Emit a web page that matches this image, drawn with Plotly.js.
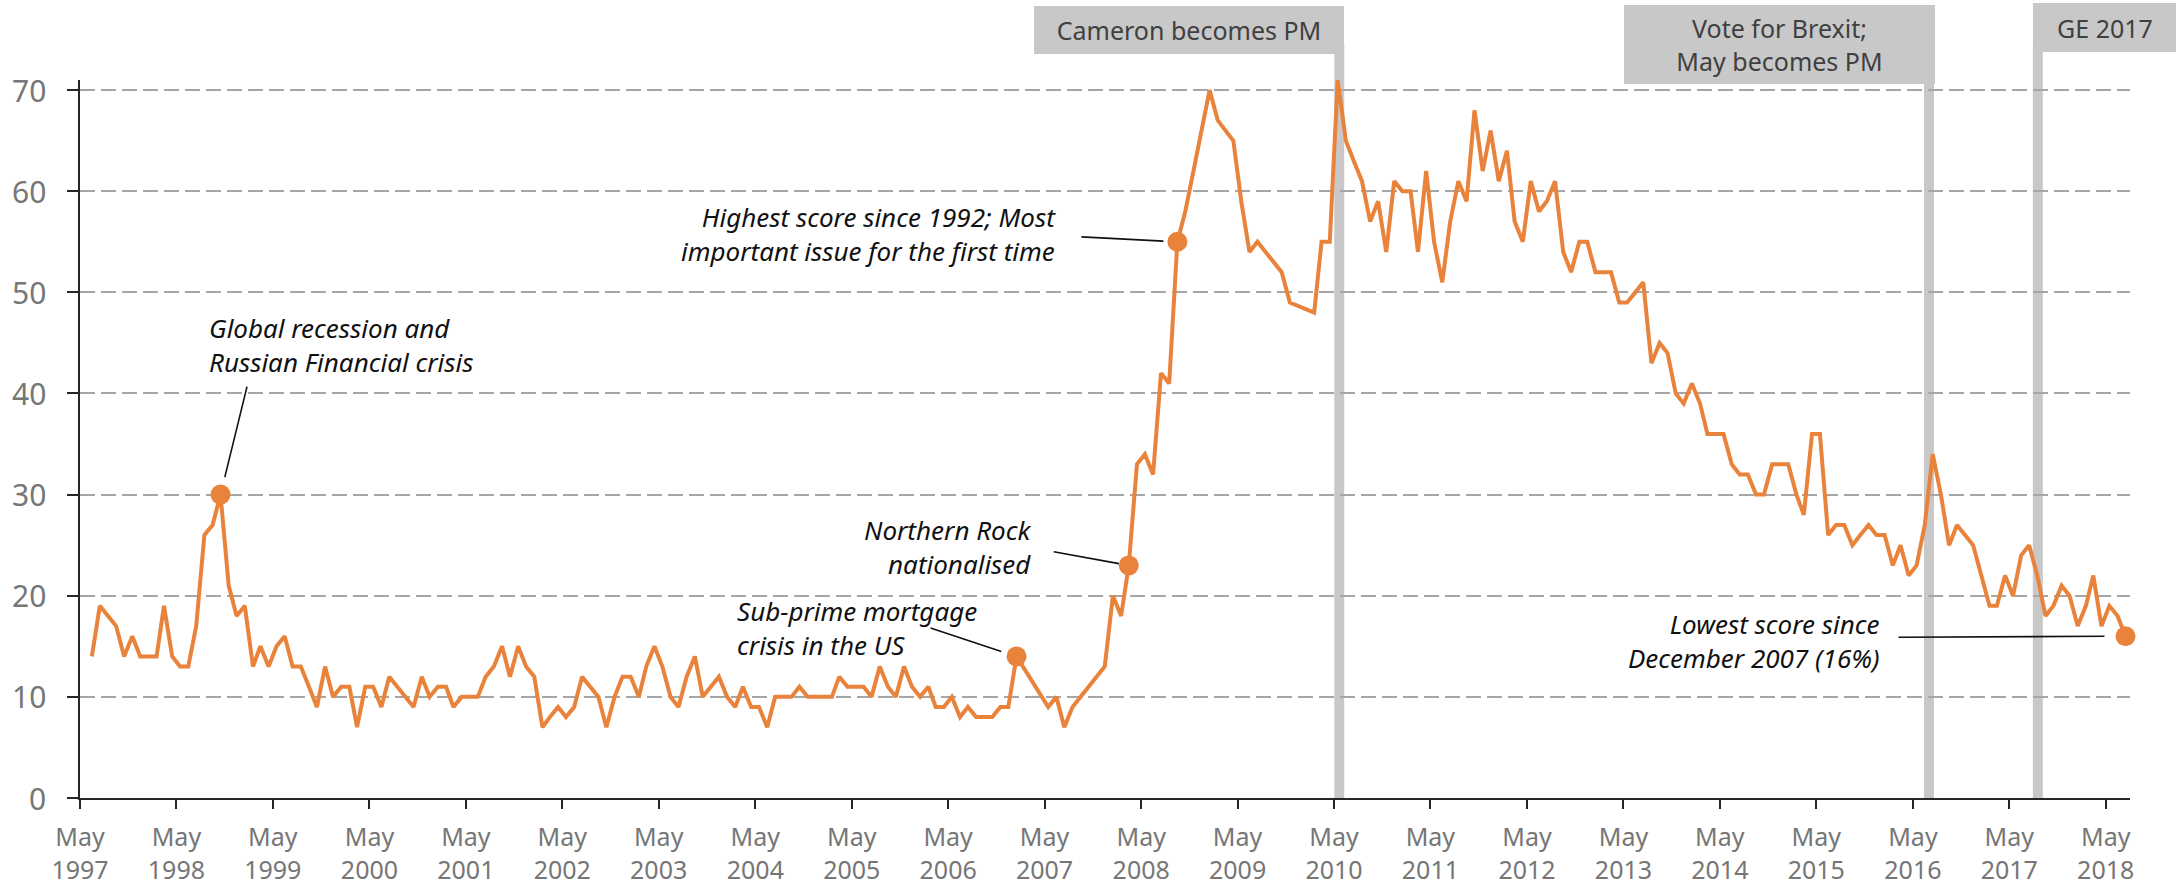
<!DOCTYPE html>
<html>
<head>
<meta charset="utf-8">
<script src="https://cdn.plot.ly/plotly-3.0.1.min.js"></script>
<style>
html,body{margin:0;padding:0;background:#ffffff;}
#chart{width:2176px;height:886px;}
</style>
</head>
<body>
<div id="chart"></div>
<script>
// Monthly scores (Jan..Dec) per year; null = no reading
const v1997 = [null,null,null,null,null,14,19,18,17,14,16,14];
const v1998 = [14,14,19,14,13,13,17,26,27,30,21,18];
const v1999 = [19,13,15,13,15,16,13,13,11,9,13,10];
const v2000 = [11,11,7,11,11,9,12,11,10,9,12,10];
const v2001 = [11,11,9,10,10,10,12,13,15,12,15,13];
const v2002 = [12,7,8,9,8,9,12,11,10,7,10,12];
const v2003 = [12,10,13,15,13,10,9,12,14,10,11,12];
const v2004 = [10,9,11,9,9,7,10,10,10,11,10,10];
const v2005 = [10,10,12,11,11,11,10,13,11,10,13,11];
const v2006 = [10,11,9,9,10,8,9,8,8,8,9,9];
const v2007 = [14,null,null,null,9,10,7,9,10,11,12,13];
const v2008 = [20,18,23,33,34,32,42,41,55,58,62,66];
const v2009 = [70,67,66,65,59,54,55,54,53,52,49,null];
const v2010 = [null,48,55,55,71,65,63,61,57,59,54,61];
const v2011 = [60,60,54,62,55,51,57,61,59,68,62,66];
const v2012 = [61,64,57,55,61,58,59,61,54,52,55,55];
const v2013 = [52,52,52,49,49,50,51,43,45,44,40,39];
const v2014 = [41,39,36,36,36,33,32,32,30,30,33,33];
const v2015 = [33,30,28,36,36,26,27,27,25,26,27,26];
const v2016 = [26,23,25,22,23,27,34,30,25,27,26,25];
const v2017 = [22,19,19,22,20,24,25,22,18,19,21,20];
const v2018 = [17,19,22,17,19,18,16];

const dataYears = [1997,1998,1999,2000,2001,2002,2003,2004,2005,2006,2007,2008,2009,2010,2011,2012,2013,2014,2015,2016,2017,2018];
const yearly = [v1997,v1998,v1999,v2000,v2001,v2002,v2003,v2004,v2005,v2006,v2007,v2008,v2009,v2010,v2011,v2012,v2013,v2014,v2015,v2016,v2017,v2018];

// Tick labels
const tickYears = [1997,1998,1999,2000,2001,2002,2003,2004,2005,2006,2007,2008,2009,2010,2011,2012,2013,2014,2015,2016,2017,2018];
const yTicks = [0,10,20,30,40,50,60,70];

// Highlighted months and their callouts
const calloutMonths = ['1998-10','2007-01','2008-03','2008-09','2018-07'];
const calloutTexts = [
  'Global recession and<br>Russian Financial crisis',
  'Sub-prime mortgage<br>crisis in the US',
  'Northern Rock<br>nationalised',
  'Highest score since 1992; Most<br>important issue for the first time',
  'Lowest score since<br>December 2007 (16%)'
];

// Events
const eventDates = ['2010-05-21','2016-07-01','2017-08-17'];
const eventLabels = ['Cameron becomes PM','Vote for Brexit;<br>May becomes PM','GE 2017'];

// ---- build series ----
const xs = [], ys = [];
yearly.forEach((arr, i) => {
  const yr = dataYears[i];
  arr.forEach((v, m) => {
    xs.push(yr + '-' + String(m + 1).padStart(2, '0') + '-15');
    ys.push(v);
  });
});
const monthKey = d => d.slice(0, 7);
const hx = [], hy = [];
calloutMonths.forEach(m => {
  const idx = xs.findIndex(d => monthKey(d) === m);
  hx.push(xs[idx]); hy.push(ys[idx]);
});

const ORANGE = '#E9833B';
const FONT = 'Noto Sans, Open Sans, sans-serif';

const traces = [
  {x: xs, y: ys, type: 'scatter', mode: 'lines', connectgaps: true,
   line: {color: ORANGE, width: 4}, hoverinfo: 'skip', cliponaxis: false},
  {x: hx, y: hy, type: 'scatter', mode: 'markers', cliponaxis: false,
   marker: {color: ORANGE, size: 20, line: {width: 0}}, hoverinfo: 'skip'}
];

// callout styling (layout offsets in px)
const calloutStyle = [
  {xanchor:'left',  xshift:-12.7,  yshift:149.4, ax:27,   ay:-110, standoff:18},
  {xanchor:'left',  xshift:-280.4, yshift:28.2,  ax:-88,  ay:-29,  standoff:16},
  {xanchor:'right', xshift:-95.3,  yshift:18.2,  ax:-77,  ay:-14,  standoff:10},
  {xanchor:'right', xshift:-120.7, yshift:8.2,   ax:-98,  ay:-5,   standoff:14},
  {xanchor:'right', xshift:-244.7, yshift:-5,    ax:-229, ay:1,    standoff:21}
];

const annotations = [];
calloutTexts.forEach((t, i) => {
  const s = calloutStyle[i];
  annotations.push({
    x: hx[i], y: hy[i], xref: 'x', yref: 'y', text: t, showarrow: false,
    xanchor: s.xanchor, yanchor: 'middle', align: s.xanchor,
    xshift: s.xshift, yshift: s.yshift, borderpad: 0,
    font: {family: FONT, size: 26, color: '#111111', style: 'italic'}
  });
  annotations.push({
    x: hx[i], y: hy[i], xref: 'x', yref: 'y', text: '', showarrow: true,
    arrowhead: 0, arrowwidth: 1.6, arrowcolor: '#111111',
    ax: s.ax, ay: s.ay, standoff: s.standoff, width: 1, height: 1,
    font: {size: 1}
  });
});

// y tick labels placed left of the axis ticks
yTicks.forEach(v => {
  annotations.push({
    x: 0, xref: 'paper', y: v, yref: 'y', text: String(v), showarrow: false,
    xanchor: 'right', yanchor: 'middle', xshift: -33, borderpad: 0,
    font: {family: FONT, size: 30, color: '#767676'}
  });
});

// event boxes
const boxStyle = [
  {xanchor:'right', xshift:5,  yshift:74,   width:310, height:48},
  {xanchor:'right', xshift:6,  yshift:75,   width:311, height:79},
  {xanchor:'left',  xshift:-5, yshift:76.7, width:144, height:49}
];
const shapes = [];
eventDates.forEach((d, i) => {
  const b = boxStyle[i];
  shapes.push({type: 'line', xref: 'x', yref: 'paper', x0: d, x1: d, y0: 0, y1: 1.05,
               line: {color: '#c8c8c8', width: 10}, layer: 'below'});
  annotations.push({
    x: d, y: 1, xref: 'x', yref: 'paper', text: eventLabels[i], showarrow: false,
    xanchor: b.xanchor, yanchor: 'top', xshift: b.xshift, yshift: b.yshift,
    width: b.width, height: b.height, align: 'center', valign: 'middle',
    bgcolor: '#c8c8c8', borderpad: 0, borderwidth: 0,
    font: {family: FONT, size: 25, color: '#404040'}
  });
});

const layout = {
  width: 2176, height: 886,
  margin: {l: 80, r: 46, t: 80, b: 88, pad: 0},
  paper_bgcolor: '#ffffff', plot_bgcolor: '#ffffff',
  showlegend: false, hovermode: false,
  font: {family: FONT},
  xaxis: {
    type: 'date', range: ['1997-05-01', '2018-08-01'],
    tickvals: tickYears.map(y => y + '-05-01'),
    ticktext: tickYears.map(y => 'May<br>' + y),
    ticks: 'outside', ticklen: 9, tickwidth: 2, tickcolor: '#262626',
    showline: true, linecolor: '#262626', linewidth: 2,
    showgrid: false, zeroline: false,
    tickfont: {family: FONT, size: 25, color: '#767676'},
    ticklabelstandoff: 7
  },
  yaxis: {
    range: [0, 71], tickvals: yTicks, showticklabels: false,
    ticks: 'outside', ticklen: 11, tickwidth: 2, tickcolor: '#262626',
    showline: true, linecolor: '#262626', linewidth: 2,
    showgrid: true, gridcolor: '#a6a6a6', gridwidth: 2, griddash: '15px,6px',
    zeroline: false
  },
  shapes: shapes,
  annotations: annotations
};

Plotly.newPlot('chart', traces, layout, {staticPlot: true, displayModeBar: false});
</script>
</body>
</html>
